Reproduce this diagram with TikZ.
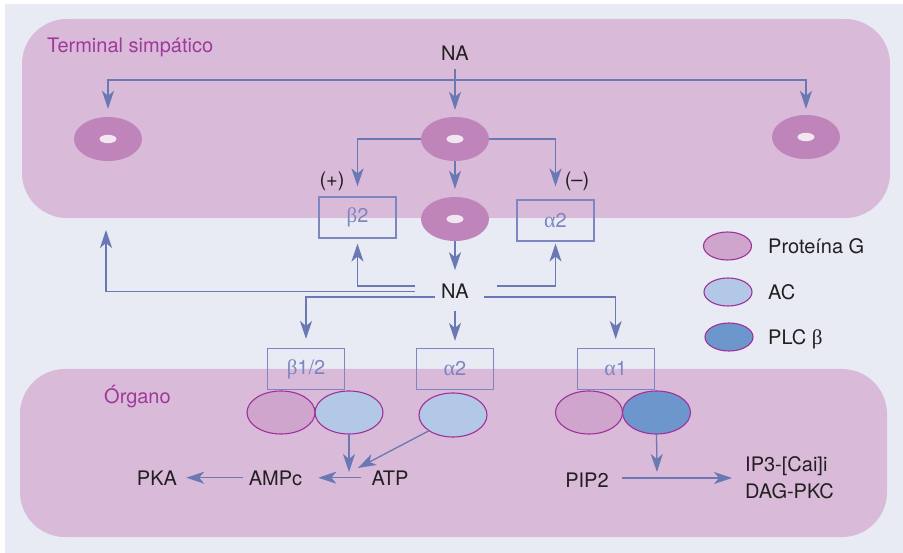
\documentclass[tikz,border=0pt]{standalone}
\usepackage{fontspec}
\setmainfont{TeX Gyre Heros}
\newfontfamily\grk{Liberation Serif}
\usetikzlibrary{shapes.geometric,arrows.meta}
\definecolor{bgc}{HTML}{E8EBF4}
\definecolor{regc}{HTML}{D9BAD9}
\definecolor{donc}{HTML}{BF84B9}
\definecolor{holec}{HTML}{F1E6F1}
\definecolor{gprot}{HTML}{CFA4CD}
\definecolor{acc}{HTML}{B2C8E6}
\definecolor{plcc}{HTML}{6D97CC}
\definecolor{outc}{HTML}{A0309A}
\definecolor{arrc}{HTML}{6A78B3}
\definecolor{boxc}{HTML}{7E86C1}
\definecolor{labc}{HTML}{A0399A}
\definecolor{txtc}{HTML}{231F20}
\newcommand{\gb}{{\grk\fontsize{21}{21}\selectfont β}}
\newcommand{\ga}{{\grk\fontsize{22}{21}\selectfont α}}
\tikzset{
  region/.style={fill=regc, rounded corners=45pt, inner sep=0pt, draw=none},
  donut/.style={ellipse, fill=donc, minimum width=68pt, minimum height=44pt, inner sep=0pt},
  recbox/.style={draw=boxc, line width=1.1pt, minimum width=77pt, minimum height=41pt, inner sep=0pt, text=boxc, font=\fontsize{20}{23}\selectfont},
  enz/.style={ellipse, draw=outc, line width=1.1pt, minimum width=68pt, minimum height=43pt, inner sep=0pt},
  leg/.style={ellipse, draw=outc, line width=1.1pt, minimum width=48pt, minimum height=28pt, inner sep=0pt},
  txt/.style={text=txtc, font=\fontsize{20}{23}\selectfont, inner sep=0pt},
  plab/.style={text=labc, font=\fontsize{20}{23}\selectfont, inner sep=0pt},
  arr/.style={draw=arrc, line width=1.3pt, -{Stealth[length=18pt,width=12pt,inset=5pt]}},
}
\begin{document}
\begin{tikzpicture}[x=1pt,y=-1pt]
\useasboundingbox (0,0) rectangle (903,553);
\fill[white] (0,0) rectangle (903,553);
\fill[bgc] (5,4) rectangle (903,553);
% regions
\node[region, minimum width=868pt, minimum height=199pt] (term) at (456,118.5) {};
\node[region, minimum width=867pt, minimum height=168pt] (organ) at (453.5,453) {};
\node[plab, anchor=base west] (termlab) at (47,53) {Terminal simpático};
\node[plab, anchor=base west] (orglab) at (104,404) {Órgano};
% donuts
\node[donut] (dL) at (108,139) {};
\node[donut] (d1) at (455,139) {};
\node[donut] (dR) at (806,137) {};
\node[donut] (d2) at (455,219) {};
\foreach \d in {dL,d1,dR,d2} \fill[holec] (\d.center) ellipse (8.5 and 4.2);
% receptor boxes
\node[recbox] (b2) at (357.5,217.5) {\gb2};
\node[recbox] (a2t) at (555.5,220.5) {\ga2};
\node[recbox] (b12) at (306,369) {\gb1/2};
\node[recbox] (a2b) at (455,369) {\ga2};
\node[recbox] (a1) at (615.7,369) {\ga1};
% enzymes
\node[enz, fill=gprot] (g1) at (281,412.5) {};
\node[enz, fill=acc] (ac1) at (349,412.5) {};
\node[enz, fill=acc, minimum height=44pt] (ac2) at (453,415) {};
\node[enz, fill=gprot, minimum width=67pt] (g2) at (589,412.5) {};
\node[enz, fill=plcc] (plc) at (656.5,412.5) {};
% legend
\node[leg, fill=gprot] (lg) at (727.5,246) {};
\node[leg, fill=acc] (lac) at (728,292) {};
\node[leg, fill=plcc] (lplc) at (729,337) {};
\node[txt, anchor=base west] (tg) at (768,253.5) {Proteína G};
\node[txt, anchor=base west] (tac) at (768,299.5) {AC};
\node[txt, anchor=base west] (tplc) at (768,344.5) {PLC \gb};
% texts
\node[txt, anchor=base] (natop) at (455,61) {NA};
\node[txt, anchor=base] (namid) at (455,299) {NA};
\node[txt] (plus) at (332,181) {(+)};
\node[txt] (minus) at (577,181) {(–)};
\node[txt, anchor=base] (atp) at (390,485) {ATP};
\node[txt, anchor=base] (ampc) at (275.5,485) {AMPc};
\node[txt, anchor=base] (pka) at (157,485) {PKA};
\node[txt, anchor=base] (pip2) at (587,487) {PIP2};
\node[txt, anchor=west, align=left, font=\fontsize{20}{27}\selectfont] (ip3) at (745,478) {IP3-[Cai]i\\DAG-PKC};
% coordinates
\coordinate (hb) at (455,80);
\coordinate (l1) at (415,286);
\coordinate (l2) at (415,291.5);
\coordinate (tipL) at (106,230);
\coordinate (r1) at (497,286);
\coordinate (l3) at (435,297);
\coordinate (r3) at (484,297);
\coordinate (cm) at (455,311);
\coordinate (j1) at (349,472);
\coordinate (j2) at (358,468);
\coordinate (j3) at (657,472);
% connectors
\draw[arr, shorten <=8pt] (natop.south) -- ([yshift=7pt]d1.north);
\draw[arr] (hb) -| ([yshift=8pt]dL.north);
\draw[arr] (hb) -| ([yshift=6pt]dR.north);
\draw[arr] (d1.west) -| ([yshift=10pt]b2.north);
\draw[arr] (d1.east) -| ([yshift=13pt]a2t.north);
\draw[arr] (d1.south) -- ([yshift=8pt]d2.north);
\draw[arr] (d2.south) -- ([yshift=14pt]namid.north);
\draw[arr] (l1) -| ([yshift=-5pt]b2.south);
\draw[arr] (l2) -| (tipL);
\draw[arr] (r1) -| ([yshift=-2pt]a2t.south);
\draw[arr] (l3) -| ([yshift=9pt]b12.north);
\draw[arr] (r3) -| ([yshift=9pt]a1.north);
\draw[arr] (cm) -- ([yshift=7pt]a2b.north);
\draw[arr] (ac1.south) -- (j1);
\draw[arr] (ac2.south west) -- (j2);
\draw[arr] (plc.south) -- (j3);
\draw[arr, shorten <=10pt, shorten >=16pt] (atp.west) -- (ampc.east |- atp.west);
\draw[arr, shorten <=6pt, shorten >=9pt] (ampc.west |- atp.west) -- (pka.east |- atp.west);
\draw[arr, shorten <=13pt, shorten >=13pt] (pip2.east |- 0,478) -- (ip3.west);
\end{tikzpicture}
\end{document}
